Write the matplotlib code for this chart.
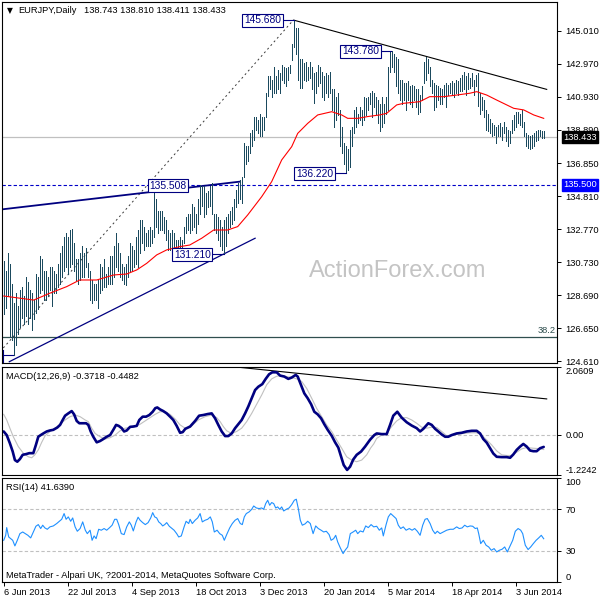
#!/usr/bin/python3
import matplotlib
matplotlib.use('Agg')
import matplotlib.pyplot as plt
import numpy as np

plt.rcParams['font.family'] = ['Liberation Sans', 'DejaVu Sans']

FS = 6.7
W = H = 600.0

BAR_COLOR = '#1b4a5e'
NAVY = '#000080'
SILVER = '#c0c0c0'
FIB_COLOR = '#2f4f4f'

title_symbol = 'EURJPY,Daily'
title_ohlc = '138.743 138.810 138.411 138.433'
macd_title = 'MACD(12,26,9) -0.3718 -0.4482'
rsi_title = 'RSI(14) 41.6390'
footer = 'MetaTrader - Alpari UK, ?2001-2014, MetaQuotes Software Corp.'

date_bars = [0, 32, 64, 96, 128, 160, 192, 224, 256]
date_labels = ['6 Jun 2013', '22 Jul 2013', '4 Sep 2013', '18 Oct 2013', '3 Dec 2013',
               '20 Jan 2014', '5 Mar 2014', '18 Apr 2014', '3 Jun 2014']

price_ticks = [145.010, 142.970, 140.930, 138.890, 136.850, 134.810,
               132.770, 130.730, 128.690, 126.650, 124.610]

# daily bars
highs = [
    130.8, 130.2, 131.3, 130.6, 129.4, 128.2, 128.8, 128.0, 129.0, 129.2,
    128.6, 129.8, 129.5, 129.0, 128.8, 128.4, 130.0, 129.8, 131.1, 130.9,
    130.2, 130.2, 129.8, 130.4, 130.4, 130.2, 130.0, 130.6, 131.3, 131.7,
    132.3, 132.5, 132.3, 132.7, 132.8, 131.9, 130.9, 130.9, 131.3, 131.7,
    131.3, 131.6, 130.7, 130.2, 129.6, 129.4, 129.4, 129.6, 130.6, 130.4,
    130.9, 130.0, 130.4, 131.1, 131.1, 131.7, 132.5, 131.9, 131.3, 130.6,
    130.4, 130.6, 131.1, 131.9, 131.7, 131.5, 132.3, 132.7, 133.3, 133.3,
    132.9, 132.5, 132.7, 132.9, 132.7, 135.5, 134.6, 133.9, 133.9, 133.9,
    133.5, 133.3, 132.7, 132.5, 132.7, 132.5, 132.1, 132.1, 132.3, 132.1,
    132.9, 133.5, 133.7, 133.7, 134.3, 134.15, 133.7, 134.6, 135.5, 135.4,
    135.4, 135.0, 135.1, 135.4, 135.6, 133.7, 133.7, 133.5, 133.3, 132.9,
    133.3, 133.5, 133.7, 133.9, 134.15, 134.6, 135.2, 135.6, 135.8, 136.0,
    138.1, 137.9, 137.9, 138.7, 138.9, 139.7, 139.7, 139.5, 139.9, 139.7,
    139.7, 141.2, 142.2, 142.2, 142.0, 142.8, 142.2, 142.6, 142.4, 142.9,
    142.8, 142.7, 142.8, 142.9, 144.2, 145.68, 145.2, 145.2, 143.3, 143.3,
    143.0, 143.1, 142.8, 143.1, 142.8, 142.4, 142.5, 142.9, 142.8, 142.5,
    142.2, 142.4, 142.3, 142.5, 141.4, 141.4, 140.95, 141.2, 140.1, 139.1,
    138.1, 137.9, 137.7, 138.9, 139.1, 140.1, 140.3, 139.9, 140.3, 140.1,
    140.95, 140.85, 140.95, 141.2, 141.3, 141.2, 140.95, 140.75, 140.5, 140.95,
    140.5, 140.95, 142.8, 143.8, 143.78, 143.6, 143.4, 143.3, 142.0, 142.0,
    141.8, 141.8, 141.9, 141.6, 141.7, 141.6, 141.4, 141.4, 141.05, 141.6,
    143.1, 143.4, 143.3, 142.8, 142.0, 141.8, 141.7, 141.6, 141.5, 141.4,
    141.7, 141.8, 141.7, 141.8, 141.9, 141.8, 142.0, 141.9, 142.1, 142.3,
    142.5, 142.2, 142.4, 142.1, 142.4, 142.0, 142.3, 142.4, 141.2, 140.95,
    140.75, 140.1, 139.9, 139.6, 139.3, 139.2, 139.1, 139.2, 139.3, 139.1,
    139.4, 139.1, 138.9, 138.8, 139.5, 139.8, 140.0, 140.0, 139.9, 140.1,
    139.4, 138.7, 138.6, 138.5, 138.6, 138.7, 138.8, 138.9, 138.9, 138.85,
    138.81,
]
lows = [
    127.5, 127.9, 128.6, 126.1, 125.9, 125.0, 125.6, 126.3, 126.7, 127.3,
    126.9, 127.4, 126.9, 127.3, 126.5, 127.2, 127.6, 127.8, 128.8, 129.0,
    128.4, 128.4, 128.6, 129.0, 128.0, 128.8, 128.8, 129.2, 129.4, 129.8,
    130.2, 130.4, 130.0, 130.4, 130.6, 130.2, 129.6, 129.4, 129.6, 129.8,
    129.8, 130.4, 129.8, 128.4, 128.2, 128.4, 128.4, 127.9, 128.8, 129.0,
    129.2, 129.2, 129.4, 129.4, 129.4, 129.8, 130.4, 130.2, 129.8, 129.6,
    129.4, 129.3, 129.8, 130.2, 130.2, 130.4, 130.6, 130.4, 131.3, 131.9,
    131.5, 131.7, 131.7, 131.7, 131.9, 132.3, 132.9, 132.5, 132.7, 132.7,
    132.5, 132.1, 131.5, 131.5, 131.4, 131.3, 131.1, 130.9, 131.1, 131.3,
    131.9, 132.5, 132.7, 132.5, 132.7, 132.9, 132.5, 133.1, 133.7, 134.2,
    133.5, 133.7, 134.1, 134.2, 133.7, 132.7, 132.5, 132.1, 131.7, 131.5,
    131.21, 131.7, 132.5, 132.9, 133.1, 133.3, 134.15, 134.4, 134.6, 134.4,
    136.0, 136.8, 137.0, 137.45, 137.9, 138.3, 138.9, 138.7, 138.5, 138.5,
    138.9, 139.7, 141.0, 141.4, 140.95, 141.2, 141.2, 141.4, 141.2, 142.0,
    141.8, 141.6, 142.0, 142.4, 143.2, 144.0, 143.6, 142.0, 141.5, 141.5,
    142.0, 141.9, 142.0, 142.1, 141.4, 140.54, 141.16, 141.6, 141.8, 140.95,
    140.75, 141.2, 140.95, 141.2, 140.1, 139.1, 139.5, 139.8, 137.9, 137.45,
    136.8, 136.22, 136.4, 136.6, 137.9, 138.7, 139.1, 139.3, 139.5, 139.2,
    139.5, 139.8, 140.1, 140.5, 139.7, 140.3, 139.9, 139.3, 138.8, 139.1,
    139.3, 139.9, 140.1, 142.5, 142.8, 142.5, 141.6, 141.2, 140.75, 140.5,
    140.75, 140.1, 140.75, 140.5, 140.3, 140.75, 140.3, 139.9, 140.0, 140.75,
    141.8, 142.0, 142.4, 141.6, 141.2, 140.1, 140.3, 140.75, 140.5, 140.5,
    140.95, 140.3, 141.05, 141.2, 141.05, 140.95, 141.2, 141.05, 141.3, 141.3,
    141.4, 141.05, 141.4, 141.5, 141.6, 141.05, 141.6, 140.4, 139.9, 140.1,
    139.7, 138.9, 138.8, 138.7, 138.5, 138.6, 138.1, 138.5, 138.5, 138.3,
    138.7, 138.2, 137.9, 138.1, 138.7, 138.9, 139.1, 139.3, 139.2, 139.1,
    138.5, 137.9, 137.8, 137.7, 137.8, 137.9, 138.2, 138.3, 138.5, 138.4,
    138.411,
]

ma_bars = [0, 15, 23, 31.5, 38, 46.5, 55, 61.5, 66.5, 71.5, 76.5, 81.5, 88, 93, 99,
           105, 112, 117, 122, 129, 134, 139, 144, 147, 152, 157, 164, 169, 172,
           177, 182, 188, 191.5, 196.5, 200, 208, 213, 220, 226.5, 233, 236.5,
           241.5, 246.5, 255, 260, 265, 270]
ma_vals = [128.63, 128.38, 128.80, 129.21, 129.62, 129.62, 129.93, 129.99, 130.24,
           130.65, 131.17, 131.48, 131.68, 131.78, 132.2, 132.71, 132.71, 132.92,
           133.64, 134.77, 135.7, 137.04, 137.86, 138.68, 139.30, 139.82, 140.02,
           139.82, 139.61, 139.61, 139.72, 139.82, 139.92, 140.44, 140.54, 140.64,
           140.95, 140.95, 141.05, 141.16, 141.26, 141.05, 140.74, 140.23, 140.13,
           139.82, 139.61]

last_close = 138.433
support = 135.500
fib_382 = 126.08

macd_bars = [0, 1.5, 3.1, 4.5, 5.6, 6.8, 8.1, 9.5, 11.1, 12.8, 14.8, 16.1, 17.3, 18.5,
             19.8, 21.5, 23.1, 24.8, 26.8, 28.2, 29.5, 30.7, 32.3, 34.0, 35.2, 36.5,
             37.8, 41.2, 42.3, 43.5, 44.8, 46.5, 48.2, 49.8, 51.5, 53.2, 54.8, 56.2,
             57.5, 59.0, 60.2, 61.5, 63.2, 64.8, 66.5, 67.8, 69.5, 71.2, 72.8, 74.5,
             75.8, 76.8, 78.2, 79.8, 81.5, 83.2, 84.8, 86.5, 88.2, 89.5, 90.8, 93.2,
             95.7, 97.7, 99.8, 102, 104, 105.7, 107.3, 109, 110.7, 112.3, 114, 115.7,
             117.3, 119, 120.7, 122.3, 124, 125.7, 127.3, 129.3, 131, 132.7, 134.3,
             136.5, 138.2, 140.3, 142.3, 144, 146, 147, 148.7, 150.3, 152, 153.7,
             155.3, 157, 158.7, 160.3, 162, 164, 165.7, 167.3, 168.7, 170, 171.7,
             173.2, 174.8, 176.5, 178.7, 180.7, 183.2, 185.3, 186.5, 189, 191.5,
             193.2, 194.8, 196.8, 199, 201.5, 204, 206.5, 208.2, 209.8, 212.3, 214,
             215.7, 217.3, 219, 220.7, 222.3, 224, 226.5, 229, 231.5, 234, 236.5,
             238.2, 239.8, 241.5, 243.2, 244.8, 246.5, 249, 251.5, 253.2, 254.8,
             256.5, 258.2, 259.8, 261.5, 263.2, 264.8, 266.5, 268.2, 270]
macd_vals = [0.10, -0.01, -0.26, -0.51, -0.77, -0.82, -0.74, -0.61, -0.59, -0.56, -0.56,
             -0.31, -0.06, -0.01, 0.04, 0.10, 0.13, 0.15, 0.22, 0.30, 0.45, 0.58, 0.65,
             0.72, 0.62, 0.42, 0.35, 0.35, 0.30, 0.10, -0.06, -0.23, -0.19, -0.13,
             -0.06, -0.01, 0.15, 0.30, 0.27, 0.20, 0.10, 0.13, 0.24, 0.25, 0.27, 0.45,
             0.55, 0.55, 0.60, 0.70, 0.81, 0.83, 0.77, 0.72, 0.65, 0.55, 0.45, 0.27,
             0.06, 0.08, 0.18, 0.25, 0.42, 0.58, 0.60, 0.63, 0.65, 0.50, 0.30, 0.10,
             -0.04, -0.04, 0.04, 0.20, 0.32, 0.45, 0.65, 0.86, 1.11, 1.36, 1.46, 1.54,
             1.70, 1.84, 1.90, 1.90, 1.80, 1.77, 1.70, 1.74, 1.82, 1.77, 1.51, 1.26,
             1.11, 0.93, 0.70, 0.62, 0.50, 0.32, 0.15, -0.03, -0.23, -0.39, -0.67,
             -0.92, -1.07, -0.97, -0.75, -0.61, -0.51, -0.36, -0.15, -0.01, 0.04, 0.02,
             0.02, 0.30, 0.58, 0.70, 0.52, 0.38, 0.28, 0.20, 0.10, 0.18, 0.35, 0.30,
             0.18, 0.10, 0.01, -0.06, -0.06, -0.01, 0.04, 0.06, 0.10, 0.12, 0.12, 0.04,
             -0.13, -0.24, -0.41, -0.57, -0.67, -0.68, -0.68, -0.70, -0.60, -0.46,
             -0.36, -0.28, -0.36, -0.48, -0.50, -0.50, -0.41, -0.37]

signal_bars = [0, 1.5, 3.1, 4.8, 7.3, 9.8, 12.3, 14, 15.6, 17.3, 19, 20.7, 23.2, 25.7,
               28.2, 30.7, 33.2, 35.7, 38.2, 40.7, 42.3, 44, 45.7, 48.2, 50.7, 53.2,
               55.7, 58.2, 60.7, 63.2, 65.7, 68.2, 70.7, 73.2, 75.7, 78.2, 80.7, 83.2,
               85.7, 88.2, 90.7, 93, 97.3, 100.7, 104, 106.5, 108.2, 109.8, 111.5, 114,
               116.5, 119, 121.5, 124, 126.5, 129, 131.5, 134, 136.5, 139, 141.5, 144,
               146.5, 149, 151.5, 154, 156.5, 159, 161.5, 164, 166.5, 169, 171.5, 174,
               176.5, 179, 181.5, 183.5, 185, 186.5, 189, 191.5, 194, 196.5, 199,
               201.5, 204, 206.5, 209, 211.5, 214, 216.5, 219, 221.5, 224, 226.5,
               229.8, 233.2, 236.5, 239, 241.5, 244, 246.5, 249, 251.5, 254, 256.5,
               259, 261.5, 264.8, 267.3, 270]
signal_vals = [0.62, 0.45, 0.20, -0.06, -0.36, -0.56, -0.67, -0.70, -0.61, -0.46, -0.23,
               -0.03, 0.10, 0.20, 0.32, 0.45, 0.55, 0.60, 0.55, 0.45, 0.40, 0.20, 0.04,
               -0.06, -0.13, -0.09, -0.01, 0.12, 0.20, 0.22, 0.25, 0.32, 0.42, 0.52,
               0.62, 0.70, 0.70, 0.62, 0.48, 0.30, 0.20, 0.22, 0.45, 0.55, 0.60, 0.52,
               0.40, 0.25, 0.12, 0.04, 0.10, 0.20, 0.40, 0.65, 0.93, 1.21, 1.52, 1.70,
               1.78, 1.80, 1.77, 1.74, 1.70, 1.62, 1.41, 1.11, 0.80, 0.55, 0.30, 0.10,
               -0.16, -0.41, -0.67, -0.77, -0.82, -0.77, -0.61, -0.40, -0.28, -0.11,
               -0.01, 0.04, 0.25, 0.42, 0.52, 0.52, 0.45, 0.35, 0.23, 0.20, 0.23, 0.22,
               0.10, -0.03, -0.01, 0.01, 0.04, 0.06, 0.06, -0.01, -0.16, -0.31, -0.49,
               -0.61, -0.63, -0.63, -0.53, -0.43, -0.39, -0.41, -0.42, -0.45]

rsi_bars = [0, 1, 1.5, 2.5, 3.5, 4.5, 5.6, 6.8, 8.1, 9.5, 10.8, 12.1, 13.5, 14.8, 16.1,
            17.3, 18.5, 19.5, 20.6, 21.8, 23.1, 24.8, 26.5, 27.8, 29, 30.2, 31.2, 32.3,
            33.5, 34.5, 35.7, 36.8, 38.2, 39.5, 40.8, 41.8, 43.2, 44.2, 45.2, 46.2,
            47.5, 48.8, 50.2, 51.5, 52.8, 54.2, 55.5, 56.5, 57.5, 58.8, 60.2, 61.5,
            62.8, 63.8, 64.8, 66.2, 67.2, 68.2, 69.5, 70.8, 72.2, 73.5, 74.5, 75.5,
            76.5, 77.5, 78.5, 79.5, 80.5, 81.5, 82.8, 84.2, 85.2, 86.5, 87.5, 88.8,
            90.2, 91.2, 92.5, 93.2, 94.3, 95.7, 97, 98.2, 99.3, 100.7, 102, 103.3,
            104.3, 105.3, 106.7, 108, 109.3, 110.3, 111.7, 113, 114.3, 115.7, 117,
            118.3, 119.3, 120.3, 121.3, 122.7, 124, 125, 126.3, 127.7, 129, 130, 131,
            132, 133, 134, 135, 136, 137, 138, 139, 140, 141.3, 142.7, 144, 145.3,
            146.3, 147.3, 148.3, 149.3, 150.7, 152, 153.3, 154.7, 156, 157.3, 158.7,
            160, 161.3, 162.7, 163.7, 165, 166, 167, 168.3, 169.7, 170.7, 172, 173.3,
            174.7, 176, 177, 178.3, 179.7, 181, 182.3, 183.7, 185, 186.5, 187.8, 189,
            189.8, 191.2, 192.3, 193.5, 194.8, 196.2, 197.3, 198.5, 199.8, 201.2,
            202.8, 204.2, 205.5, 206.8, 208.2, 209.5, 210.7, 211.8, 213.2, 214.5,
            215.7, 216.8, 218.2, 219.8, 221.5, 223.2, 224.8, 226.5, 227.8, 229.2,
            230.5, 231.8, 233.2, 234.5, 235.8, 236.8, 237.5, 238.5, 239.8, 241.2,
            242.5, 243.8, 245.2, 246.5, 247.8, 249.2, 250.5, 251.8, 253.2, 254.5,
            255.8, 257.2, 258.5, 259.5, 260.8, 262.2, 263.5, 264.8, 266.2, 267.5,
            268.8, 270]
rsi_vals = [40.1, 44.9, 52.3, 43.3, 41.7, 40.1, 34.7, 40.1, 46.5, 48.1, 46.5, 44.9, 42.4,
            48.1, 53.6, 55.2, 51.4, 54.6, 52.0, 50.7, 53.0, 53.9, 56.2, 58.4, 60.3, 65.8,
            60.3, 62.6, 58.4, 61.6, 53.0, 48.8, 51.4, 57.8, 49.8, 46.5, 49.8, 40.1, 44.3,
            41.7, 50.7, 49.8, 51.4, 49.8, 52.0, 54.6, 60.3, 60.3, 55.2, 46.5, 45.6, 53.0,
            57.8, 54.6, 49.1, 57.8, 62.3, 59.4, 57.1, 55.2, 57.1, 61.6, 66.7, 62.6, 61.6,
            57.8, 56.2, 53.9, 55.2, 57.1, 53.6, 51.4, 49.8, 46.5, 43.3, 44.3, 53.0, 58.4,
            56.2, 60.3, 56.2, 59.4, 61.6, 65.8, 57.8, 59.4, 60.3, 62.6, 57.8, 48.1, 49.8,
            46.5, 44.9, 40.1, 46.5, 52.0, 56.2, 59.4, 61.0, 56.2, 55.2, 62.6, 65.8, 67.4,
            69.9, 73.1, 71.2, 70.6, 71.2, 69.9, 75.4, 78.6, 73.8, 76.4, 75.4, 71.2, 72.2,
            69.9, 72.2, 68.3, 69.9, 71.2, 74.4, 78.6, 79.6, 70.6, 59.4, 54.6, 55.9, 58.4,
            56.2, 46.5, 53.9, 51.4, 49.8, 48.1, 48.8, 45.6, 40.1, 41.7, 44.9, 38.5, 32.8,
            27.3, 30.5, 33.7, 46.5, 48.1, 49.8, 46.5, 49.1, 48.1, 53.9, 52.3, 55.2, 53.0,
            53.6, 49.8, 52.0, 44.3, 55.2, 62.6, 65.8, 63.5, 61.0, 54.6, 51.4, 53.0, 49.8,
            51.4, 49.8, 51.4, 48.8, 44.9, 54.6, 60.3, 61.0, 56.2, 49.8, 46.5, 48.8, 46.5,
            48.1, 49.8, 50.7, 50.7, 53.0, 51.4, 52.0, 54.6, 53.0, 53.9, 53.6, 51.4, 52.0,
            46.5, 36.9, 40.1, 35.3, 33.7, 30.5, 32.1, 28.9, 30.5, 31.5, 33.7, 28.9, 34.7,
            40.1, 48.8, 51.4, 49.8, 46.5, 35.3, 31.2, 33.7, 36.9, 40.1, 42.4, 44.9, 41.6]

# (text, box centre bar, box centre price, connector start bar, connector end bar, price)
price_labels = [
    ('145.680', 129.4, 145.66, 139.8, 145, 145.68),
    ('143.780', 178.4, 143.76, 189.0, 193.5, 143.78),
    ('136.220', 155.4, 136.19, 166.0, 171, 136.22),
    ('135.508', 82.3, 135.44, None, None, None),
    ('131.210', 94.3, 131.19, 104.8, 110, 131.21),
]

# trendlines as (bar, price) pairs
top_line = ([145, 271.5], [145.68, 141.40])
wedge_top = ([-0.5, 118.2], [133.99, 135.70])
wedge_bottom = ([2.8, 125.7], [124.57, 132.20])
fib_diag = ([-0.2, 144.8], [125.42, 145.68])
macd_line = ([114.8, 271.5], [2.07, 1.09])

XLIM = (-0.85, 276.65)


def panel(fig, x0, y0, x1, y1):
    ax = fig.add_axes([x0 / W, 1 - y1 / H, (x1 - x0) / W, (y1 - y0) / H])
    ax.set_xlim(*XLIM)
    for s in ax.spines.values():
        s.set_color('black')
        s.set_linewidth(0.8)
    ax.yaxis.tick_right()
    ax.tick_params(axis='y', direction='out', length=3, width=0.7, pad=3,
                   labelsize=FS, colors='black')
    ax.set_xticks([])
    return ax


def side_box(ax, value, text, face):
    ax.annotate(text, xy=(1, value), xycoords=('axes fraction', 'data'),
                xytext=(6, 0), textcoords='offset pixels', ha='left', va='center',
                fontsize=FS, color='white', annotation_clip=False, zorder=10,
                bbox=dict(boxstyle='square,pad=0.15', fc=face, ec=face))


def draw_price(ax):
    idx = np.arange(len(highs))
    ax.set_ylim(124.49, 146.80)
    ax.set_yticks(price_ticks)
    ax.set_yticklabels(['%.3f' % t for t in price_ticks])

    ax.axhline(last_close, color=SILVER, lw=0.9, zorder=1)
    ax.axhline(support, color='#0000c8', lw=0.8, dashes=(3, 2), zorder=1)
    ax.axhline(fib_382, color=FIB_COLOR, lw=0.9, zorder=1)
    ax.text(0.997, fib_382 + 0.12, '38.2', transform=ax.get_yaxis_transform(),
            ha='right', va='bottom', fontsize=FS, color=FIB_COLOR)

    ax.text(0.712, 0.256, 'ActionForex.com', transform=ax.transAxes, ha='center',
            va='center', fontsize=17, color='#c4c4c4', zorder=0)

    ax.plot(*fib_diag, color='#3a3a3a', lw=0.7, dashes=(2, 3), zorder=2)
    ax.plot(*wedge_top, color=NAVY, lw=1.3, zorder=2)
    ax.plot(*wedge_bottom, color=NAVY, lw=0.9, zorder=2)
    ax.plot(*top_line, color='black', lw=0.8, zorder=2)

    ax.vlines(idx, lows, highs, color=BAR_COLOR, lw=0.45, antialiased=False, zorder=3)
    ax.plot(ma_bars, ma_vals, color='#ff0000', lw=0.8, zorder=4)

    # small label connector at the June 2013 low
    ax.plot([-0.5, -0.5], [125.3, 124.49], color=NAVY, lw=0.8)
    ax.plot([-0.5, 5], [125.0, 125.0], color=NAVY, lw=0.8)

    for text, bx, by, c0, c1, cp in price_labels:
        if c0 is not None:
            ax.plot([c0, c1], [cp, cp], color=NAVY, lw=0.8, zorder=5)
        ax.text(bx, by, text, ha='center', va='center', fontsize=7.4, color=NAVY,
                zorder=6, bbox=dict(boxstyle='square,pad=0.15', fc='white', ec=NAVY, lw=0.8))

    side_box(ax, last_close, '%.3f' % last_close, 'black')
    side_box(ax, support, '%.3f' % support, '#0000ff')


def draw_macd(ax):
    ax.set_ylim(-1.2242, 2.0609)
    ax.set_yticks([-1.2242, 0, 2.0609])
    labels = ax.set_yticklabels(['-1.2242', '0.00', '2.0609'])
    labels[0].set_va('bottom')
    labels[2].set_va('top')
    ax.axhline(0, color=SILVER, lw=0.8, dashes=(3, 2))
    ax.plot(*macd_line, color='black', lw=0.8)
    ax.plot(signal_bars, signal_vals, color=SILVER, lw=0.8)
    ax.plot(macd_bars, macd_vals, color=NAVY, lw=1.9, solid_capstyle='round')
    ax.text(0.008, 0.915, macd_title, transform=ax.transAxes, fontsize=FS, va='center')


def draw_rsi(ax):
    ax.set_ylim(0, 100)
    ax.set_yticks([0, 30, 70, 100])
    labels = ax.set_yticklabels(['0', '30', '70', '100'])
    labels[0].set_va('bottom')
    labels[3].set_va('top')
    for lvl in (30, 70):
        ax.axhline(lvl, color=SILVER, lw=0.8, dashes=(3, 2))
    ax.plot(rsi_bars, rsi_vals, color='#1e90ff', lw=0.8)
    ax.text(0.008, 0.91, rsi_title, transform=ax.transAxes, fontsize=FS, va='center')
    ax.text(0.008, 0.065, footer, transform=ax.transAxes, fontsize=FS, va='center')
    ax.set_xticks(date_bars)
    ax.set_xticklabels(date_labels, ha='left')
    ax.tick_params(axis='x', direction='out', length=3, width=0.7, pad=1.5,
                   labelsize=FS, colors='black')


def main():
    fig = plt.figure(figsize=(6, 6), dpi=100)
    ax_p = panel(fig, 2, 2, 557, 363)
    ax_m = panel(fig, 2, 367, 557, 475)
    ax_r = panel(fig, 2, 478, 557, 582)
    draw_price(ax_p)
    draw_macd(ax_m)
    draw_rsi(ax_r)

    fig.text(9.8 / W, 1 - 10.7 / H, '\u25bc', fontsize=5.5, ha='center', va='center',
             family=['DejaVu Sans'])
    fig.text(18.3 / W, 1 - 10.7 / H, title_symbol, fontsize=FS, va='center')
    fig.text(84.3 / W, 1 - 10.7 / H, title_ohlc, fontsize=FS, va='center')

    fig.savefig('out.png', dpi=100, facecolor='white')


if __name__ == '__main__':
    main()
